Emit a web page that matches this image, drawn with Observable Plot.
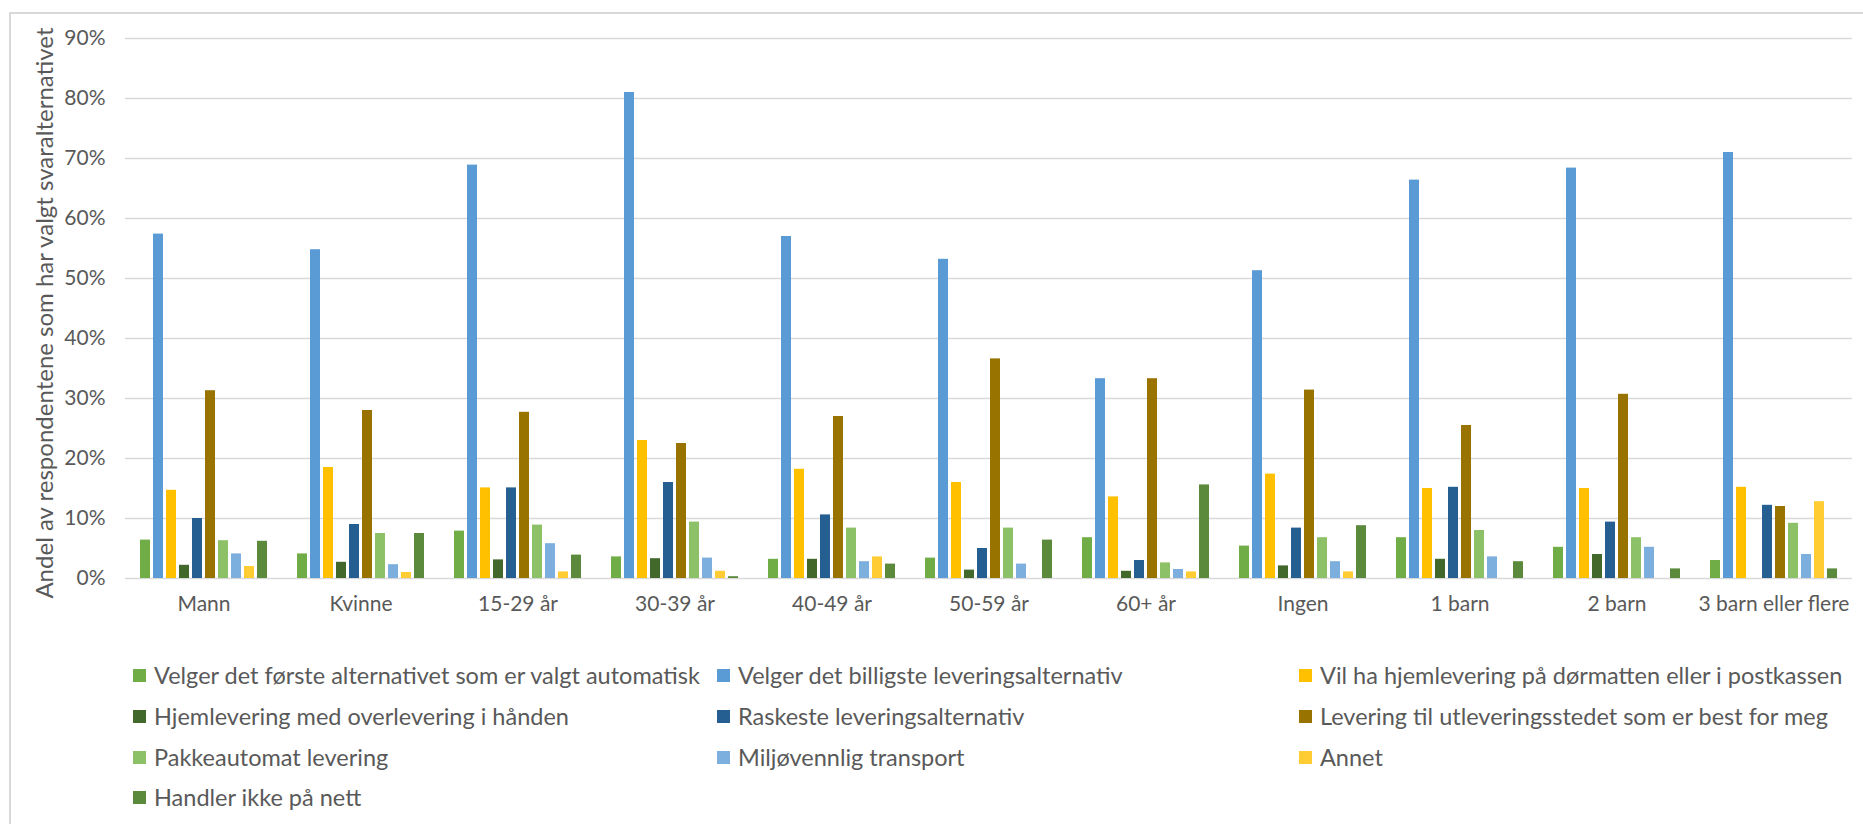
<!DOCTYPE html>
<html lang="no">
<head>
<meta charset="utf-8">
<script src="https://cdn.jsdelivr.net/npm/d3@7"></script>
<script src="https://cdn.jsdelivr.net/npm/@observablehq/plot@0.6"></script>
<style>
  html, body { margin: 0; padding: 0; background: #fff; }
  #wrap { position: relative; width: 1863px; height: 824px; overflow: hidden;
          font-family: Lato, "Open Sans", sans-serif; color: #595959; }
  #frame { position: absolute; left: 9px; top: 12px; width: 2000px; height: 1000px;
           border-left: 2px solid #d9d9d9; border-top: 2px solid #d9d9d9; }
  #chart { position: absolute; left: 0; top: 0; }
  #ytitle { position: absolute; left: 43px; top: 313px; white-space: nowrap;
            font-size: 24px; transform: translate(-50%, -50%) rotate(-90deg); }
  .item { position: absolute; display: flex; align-items: center; white-space: nowrap;
          font-size: 23.5px; height: 32px; transform: translateY(-50%); }
  .sw { width: 13px; height: 13px; margin-right: 8px; flex: none; }
</style>
</head>
<body>
<div id="wrap">
  <div id="frame"></div>
  <div id="chart"></div>
  <div id="ytitle">Andel av respondentene som har valgt svaralternativet</div>
  <div id="legend"></div>
</div>
<script>
// Groups along the horizontal axis
const categories = ["Mann", "Kvinne", "15-29 år", "30-39 år", "40-49 år", "50-59 år",
                    "60+ år", "Ingen", "1 barn", "2 barn", "3 barn eller flere"];

// Answer alternatives (series), in legend order
const series = [
  "Velger det første alternativet som er valgt automatisk",
  "Velger det billigste leveringsalternativ",
  "Vil ha hjemlevering på dørmatten eller i postkassen",
  "Hjemlevering med overlevering i hånden",
  "Raskeste leveringsalternativ",
  "Levering til utleveringsstedet som er best for meg",
  "Pakkeautomat levering",
  "Miljøvennlig transport",
  "Annet",
  "Handler ikke på nett"
];

const colors = ["#70ad47", "#5b9bd5", "#ffc000", "#43682b", "#255e91",
                "#997300", "#8cc168", "#7cafdd", "#ffcd33", "#5b8a3c"];

// Share of respondents (%) per group, one array per alternative
const forsteAlternativ   = [6.4, 4.1, 7.9, 3.6, 3.2, 3.4, 6.8, 5.4, 6.8, 5.2, 3.0];
const billigste          = [57.4, 54.8, 68.9, 81.0, 57.0, 53.2, 33.3, 51.3, 66.4, 68.4, 71.0];
const dormatten          = [14.7, 18.5, 15.1, 23.0, 18.2, 16.0, 13.6, 17.4, 15.0, 15.0, 15.2];
const overlevering       = [2.2, 2.7, 3.1, 3.3, 3.2, 1.4, 1.2, 2.1, 3.2, 4.0, 0];
const raskeste           = [10.0, 9.0, 15.1, 16.0, 10.6, 5.0, 3.0, 8.4, 15.2, 9.4, 12.2];
const utleveringssted    = [31.3, 28.0, 27.7, 22.5, 27.0, 36.6, 33.3, 31.4, 25.5, 30.7, 12.0];
const pakkeautomat       = [6.3, 7.5, 8.9, 9.4, 8.4, 8.4, 2.6, 6.8, 8.0, 6.8, 9.2];
const miljovennlig       = [4.1, 2.3, 5.8, 3.4, 2.8, 2.4, 1.5, 2.8, 3.6, 5.2, 4.0];
const annet              = [2.0, 1.0, 1.1, 1.2, 3.6, 0, 1.1, 1.1, 0, 0, 12.8];
const handlerIkke        = [6.2, 7.5, 3.9, 0.3, 2.4, 6.4, 15.6, 8.8, 2.8, 1.6, 1.6];

const yTicks = [0, 10, 20, 30, 40, 50, 60, 70, 80, 90];

const valueSets = [forsteAlternativ, billigste, dormatten, overlevering, raskeste,
                   utleveringssted, pakkeautomat, miljovennlig, annet, handlerIkke];

const rows = [];
categories.forEach((c, i) => {
  series.forEach((s, j) => rows.push({category: c, series: s, value: valueSets[j][i] / 100}));
});

const chart = Plot.plot({
  width: 1863,
  height: 640,
  marginLeft: 124,
  marginRight: 11,
  marginTop: 38,
  marginBottom: 62,
  style: {fontFamily: "Lato, 'Open Sans', sans-serif", fontSize: "21px", color: "#595959", background: "transparent"},
  fx: {domain: categories, padding: 0},
  x: {domain: series, paddingInner: 0.22, paddingOuter: 0.84, axis: null},
  y: {domain: [0, 0.9]},
  color: {domain: series, range: colors},
  marks: [
    Plot.ruleY(yTicks.map(d => d / 100), {stroke: "#d9d9d9", strokeWidth: 1.6}),
    Plot.barY(rows, {fx: "category", x: "series", y: "value", fill: "series"}),
    Plot.axisY(yTicks.map(d => d / 100), {
      tickFormat: d3.format(".0%"), tickSize: 0, tickPadding: 20,
      fontSize: 21, fill: "#595959", label: null
    }),
    Plot.axisFx({anchor: "bottom", tickSize: 0, tickPadding: 18, fontSize: 21, fill: "#595959", label: null})
  ]
});
document.getElementById("chart").appendChild(chart);

// Legend: three columns, row-major order
const legend = document.getElementById("legend");
const colX = [133, 717, 1299];
const rowY = [675, 716, 757, 797];
series.forEach((s, i) => {
  const item = document.createElement("div");
  item.className = "item";
  item.style.left = colX[i % 3] + "px";
  item.style.top = rowY[Math.floor(i / 3)] + "px";
  const sw = document.createElement("span");
  sw.className = "sw";
  sw.style.background = colors[i];
  const label = document.createElement("span");
  label.textContent = s;
  item.appendChild(sw);
  item.appendChild(label);
  legend.appendChild(item);
});
</script>
</body>
</html>
